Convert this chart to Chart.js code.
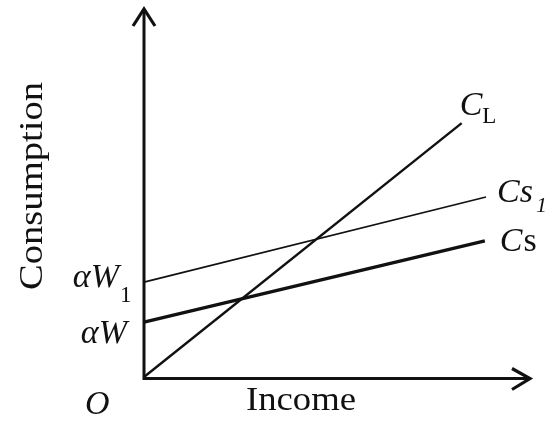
<!DOCTYPE html>
<html>
<head>
<meta charset="utf-8">
<title>Consumption and Income</title>
<script src="https://cdn.jsdelivr.net/npm/chart.js@4/dist/chart.umd.min.js"></script>
<style>
  html, body { margin: 0; padding: 0; background: #ffffff; }
  #wrap { width: 549px; height: 423px; position: relative; }
</style>
</head>
<body>
<div id="wrap"><canvas id="c" width="549" height="423"></canvas></div>
<script>
// Income range shown on the horizontal axis and consumption range on the vertical axis
const incomeRange = [0, 10];
const consumptionRange = [0, 10];

// Each schedule is a straight line given by its two end points (income, consumption)
const incomeLong = [0, 8.23];
const consumptionLong = [0, 6.90];      // C_L, passes through the origin

const incomeShort1 = [0, 8.86];
const consumptionShort1 = [2.58, 4.89]; // Cs_1, intercept αW_1

const incomeShort = [0, 8.83];
const consumptionShort = [1.49, 3.70];  // Cs, intercept αW

const toPoints = (xs, ys) => xs.map((x, i) => ({ x: x, y: ys[i] }));

const SERIF = '"Liberation Serif", "Times New Roman", serif';
const INK = '#111111';

// Draws a run of text pieces (for subscripts and mixed italic/upright glyphs)
function drawRich(ctx, x, y, pieces, align) {
  let total = 0;
  pieces.forEach(p => { ctx.font = p.font; p.w = ctx.measureText(p.text).width; total += p.w + (p.gap || 0); });
  let cx = align === 'right' ? x - total : x;
  pieces.forEach(p => {
    ctx.font = p.font;
    ctx.fillText(p.text, cx + (p.gap || 0), y + (p.dy || 0));
    cx += p.w + (p.gap || 0);
  });
}

function stretchedText(ctx, text, x, y, targetWidth, rotate) {
  ctx.save();
  ctx.translate(x, y);
  if (rotate) ctx.rotate(-Math.PI / 2);
  const w = ctx.measureText(text).width;
  ctx.scale(targetWidth / w, 1);
  ctx.textAlign = 'center';
  ctx.fillText(text, 0, 0);
  ctx.restore();
}

const axesAndLabels = {
  id: 'axesAndLabels',
  afterDatasetsDraw(chart) {
    const { ctx } = chart;
    const xs = chart.scales.x, ys = chart.scales.y;
    const ox = xs.getPixelForValue(incomeRange[0]);
    const oy = ys.getPixelForValue(consumptionRange[0]);
    const top = ys.getPixelForValue(consumptionRange[1]);
    const right = xs.getPixelForValue(incomeRange[1]);

    ctx.save();
    ctx.strokeStyle = INK;
    ctx.lineWidth = 3;
    ctx.lineCap = 'butt';
    ctx.lineJoin = 'miter';

    // axes
    ctx.beginPath();
    ctx.moveTo(ox, top + 1);
    ctx.lineTo(ox, oy + 1.5);
    ctx.lineTo(right - 1, oy + 1.5);
    ctx.stroke();

    // arrow heads
    ctx.lineWidth = 3.2;
    ctx.beginPath();
    ctx.moveTo(ox - 11, top + 17);
    ctx.lineTo(ox, top);
    ctx.lineTo(ox + 11, top + 17);
    ctx.stroke();
    ctx.beginPath();
    ctx.moveTo(right - 18, oy + 1.5 - 10);
    ctx.lineTo(right, oy + 1.5);
    ctx.lineTo(right - 18, oy + 1.5 + 11);
    ctx.stroke();

    ctx.fillStyle = INK;
    ctx.textBaseline = 'alphabetic';
    ctx.textAlign = 'left';

    // axis titles
    ctx.font = '34px ' + SERIF;
    stretchedText(ctx, 'Consumption', 42, 186, 208, true);
    stretchedText(ctx, 'Income', 301, 410, 110, false);

    // origin
    ctx.font = 'italic 34px ' + SERIF;
    ctx.fillText('O', ox - 59, oy + 37);

    // intercept labels on the vertical axis
    const yW1 = ys.getPixelForValue(consumptionShort1[0]);
    const yW = ys.getPixelForValue(consumptionShort[0]);
    drawRich(ctx, ox - 25, yW1 + 5, [
      { text: 'αW', font: 'italic 34px ' + SERIF }
    ], 'right');
    ctx.font = '23px ' + SERIF;
    ctx.fillText('1', ox - 24, yW1 + 20);
    drawRich(ctx, ox - 17, yW + 21, [
      { text: 'αW', font: 'italic 34px ' + SERIF }
    ], 'right');

    // schedule labels at the line ends
    const eL = { x: xs.getPixelForValue(incomeLong[1]), y: ys.getPixelForValue(consumptionLong[1]) };
    drawRich(ctx, eL.x - 2, eL.y - 8, [
      { text: 'C', font: 'italic 34px ' + SERIF },
      { text: 'L', font: '23px ' + SERIF, dy: 8, gap: 0 }
    ]);
    const e1 = { x: xs.getPixelForValue(incomeShort1[1]), y: ys.getPixelForValue(consumptionShort1[1]) };
    drawRich(ctx, e1.x + 11, e1.y + 5, [
      { text: 'Cs', font: 'italic 34px ' + SERIF },
      { text: '1', font: 'italic 22px ' + SERIF, dy: 10, gap: 3 }
    ]);
    const eS = { x: xs.getPixelForValue(incomeShort[1]), y: ys.getPixelForValue(consumptionShort[1]) };
    drawRich(ctx, eS.x + 15, eS.y + 10, [
      { text: 'C', font: 'italic 34px ' + SERIF },
      { text: 's', font: '34px ' + SERIF, gap: 1 }
    ]);
    ctx.restore();
  }
};

new Chart(document.getElementById('c'), {
  type: 'scatter',
  data: {
    datasets: [
      { label: 'C_L', data: toPoints(incomeLong, consumptionLong), showLine: true,
        borderColor: INK, borderWidth: 2.4, pointRadius: 0, clip: false },
      { label: 'Cs_1', data: toPoints(incomeShort1, consumptionShort1), showLine: true,
        borderColor: INK, borderWidth: 1.7, pointRadius: 0, clip: false },
      { label: 'Cs', data: toPoints(incomeShort, consumptionShort), showLine: true,
        borderColor: INK, borderWidth: 3.4, pointRadius: 0, clip: false }
    ]
  },
  options: {
    responsive: false,
    animation: false,
    devicePixelRatio: 1,
    layout: { padding: { left: 144, top: 9, right: 19, bottom: 46 } },
    scales: {
      x: { type: 'linear', min: incomeRange[0], max: incomeRange[1], display: false },
      y: { type: 'linear', min: consumptionRange[0], max: consumptionRange[1], display: false }
    },
    plugins: { legend: { display: false }, tooltip: { enabled: false } }
  },
  plugins: [axesAndLabels]
});
</script>
</body>
</html>
